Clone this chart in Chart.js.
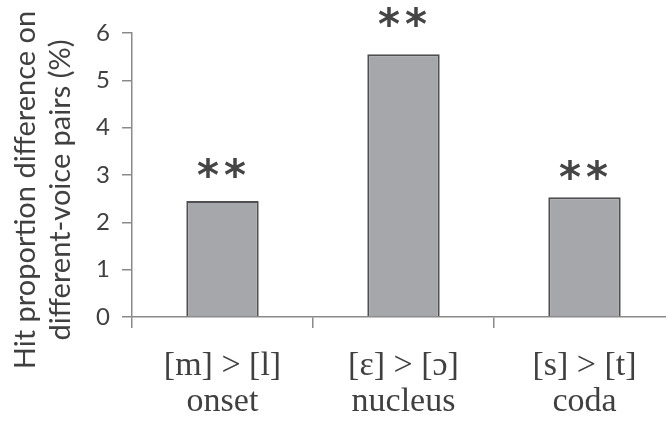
<!DOCTYPE html>
<html>
<head>
<meta charset="utf-8">
<script src="https://cdn.jsdelivr.net/npm/chart.js@4.4.1/dist/chart.umd.min.js"></script>
<style>
  html, body { margin: 0; padding: 0; background: #fff; overflow: hidden; }
  .frame { width: 666px; height: 423px; overflow: hidden; }
</style>
</head>
<body>
<div class="frame">
  <canvas id="chart" width="690" height="423"></canvas>
</div>
<script>
// hit proportion differences, one bar per syllable position
const positions = [['[m] > [l]', 'onset'], ['[ɛ] > [ɔ]', 'nucleus'], ['[s] > [t]', 'coda']];
const hitDiff = [2.45, 5.55, 2.53];
const stars = ['**', '**', '**'];
const starLevels = [2.94, 6.13, 2.90]; // where the bottom of each star pair sits (y units)
const yTicks = [0, 1, 2, 3, 4, 5, 6];
const yTitle = ['Hit proportion difference on', 'different-voice pairs (%)'];

const textColor = '#404040';
const axisColor = '#8a8a8a';

// significance stars over the bars
const starPlugin = {
  id: 'stars',
  afterDatasetsDraw(chart) {
    const ctx = chart.ctx;
    const meta = chart.getDatasetMeta(0);
    const y = chart.scales.y;
    ctx.save();
    ctx.fillStyle = '#454545';
    ctx.font = 'bold 42px "DejaVu Sans"';
    ctx.textAlign = 'center';
    ctx.textBaseline = 'alphabetic';
    meta.data.forEach((bar, i) => {
      const s = stars[i];
      const m = ctx.measureText('*');
      const bottom = y.getPixelForValue(starLevels[i]);
      // descent is negative for '*', the glyph sits above the baseline
      const base = bottom - m.actualBoundingBoxDescent;
      for (let k = 0; k < s.length; k++) {
        const cx = bar.x - 1 + (k - (s.length - 1) / 2) * 27;
        ctx.fillText(s[k], cx, base);
      }
    });
    ctx.restore();
  }
};

// two line y title, drawn by hand so it can sit a bit lower than the axis centre
const yTitlePlugin = {
  id: 'yTitle',
  afterDraw(chart) {
    const ctx = chart.ctx;
    ctx.save();
    ctx.fillStyle = textColor;
    ctx.font = '29px Lato';
    ctx.textAlign = 'center';
    ctx.textBaseline = 'alphabetic';
    ctx.translate(0, 190);
    ctx.rotate(-Math.PI / 2);
    yTitle.forEach((line, i) => {
      ctx.fillText(line, 0, 35 + i * 35);
    });
    ctx.restore();
  }
};

new Chart(document.getElementById('chart'), {
  type: 'bar',
  data: {
    labels: positions,
    datasets: [{
      data: hitDiff,
      backgroundColor: '#a6a7ab',
      borderColor: '#4f4f4f',
      borderWidth: 2,
      categoryPercentage: 1,
      barPercentage: 0.4
    }]
  },
  options: {
    responsive: false,
    animation: false,
    events: [],
    layout: { padding: { top: 33, right: 15, left: 0, bottom: 0 } },
    plugins: {
      legend: { display: false },
      tooltip: { enabled: false }
    },
    scales: {
      x: {
        grid: {
          offset: true,
          drawOnChartArea: false,
          tickLength: 11,
          color: axisColor,
          lineWidth: 1.5
        },
        border: { color: axisColor, width: 1.5 },
        ticks: {
          color: textColor,
          padding: 20,
          maxRotation: 0,
          font: { family: '"Liberation Serif"', size: 34, lineHeight: 1.06 }
        },
        afterFit(scale) { scale.height = 106; }
      },
      y: {
        min: 0,
        max: 6,
        afterBuildTicks(scale) { scale.ticks = yTicks.map(v => ({ value: v })); },
        grid: {
          drawOnChartArea: false,
          tickLength: 10,
          color: axisColor,
          lineWidth: 1.5
        },
        border: { color: axisColor, width: 1.5 },
        ticks: {
          color: textColor,
          padding: 12,
          font: { family: 'Lato', size: 24 }
        },
        afterFit(scale) { scale.width = 132; }
      }
    }
  },
  plugins: [starPlugin, yTitlePlugin]
});
</script>
</body>
</html>
